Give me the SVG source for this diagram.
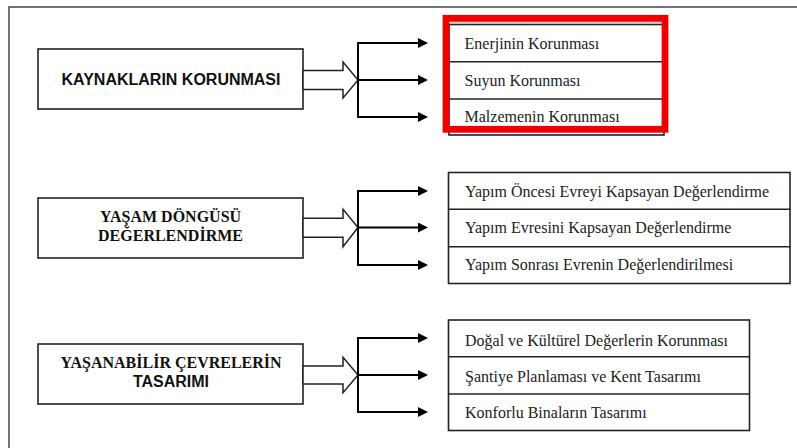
<svg xmlns="http://www.w3.org/2000/svg" width="797" height="448" viewBox="0 0 797 448">
<style>
.box{fill:#fff;stroke:#222;stroke-width:1.6}
.div{stroke:#222;stroke-width:1.6}
.sans{font-family:"Liberation Sans",Arial,sans-serif;font-weight:bold;font-size:16px;fill:#111}
.serifb{font-family:"Liberation Serif","Times New Roman",serif;font-weight:bold;font-size:16px;fill:#111}
.item{font-family:"Liberation Serif","Times New Roman",serif;font-size:16px;fill:#222}
.blk{fill:#fff;stroke:#222;stroke-width:1.5;stroke-linejoin:miter}
.con{fill:none;stroke:#000;stroke-width:2}
</style>
<defs>
<marker id="ah" viewBox="0 0 10 10" markerWidth="10" markerHeight="10" markerUnits="userSpaceOnUse" refX="0" refY="5" orient="auto">
<path d="M0,0 L10,5 L0,10 z" fill="#000"/>
</marker>
</defs>
<rect width="797" height="448" fill="#fff"/>
<path d="M9,448 V7 H797" fill="none" stroke="#444" stroke-width="1.5"/>

<g id="node-kaynaklar">
<rect class="box" x="38" y="49" width="265" height="60"/>
<text class="sans" x="171" y="84.5" text-anchor="middle">KAYNAKLARIN KORUNMASI</text>
</g>
<g id="node-yasam">
<rect class="box" x="38" y="198" width="265" height="60"/>
<text class="serifb" x="170.5" y="221.5" text-anchor="middle">YAŞAM DÖNGÜSÜ</text>
<text class="serifb" x="170.5" y="241" text-anchor="middle">DEĞERLENDİRME</text>
</g>
<g id="node-yasanabilir">
<rect class="box" x="38" y="344" width="265" height="60"/>
<text class="serifb" x="171" y="368.3" text-anchor="middle">YAŞANABİLİR ÇEVRELERİN</text>
<text class="sans" x="171" y="387.3" text-anchor="middle">TASARIMI</text>
</g>

<g id="node-list1">
<line x1="449" y1="22" x2="664" y2="22" stroke="#999" stroke-width="1"/>
<rect class="box" x="449" y="24.5" width="215" height="110.5"/>
<line class="div" x1="449" y1="61.7" x2="664" y2="61.7"/>
<line class="div" x1="449" y1="99" x2="664" y2="99"/>
<text class="item" x="464.5" y="49.3">Enerjinin Korunması</text>
<text class="item" x="464.5" y="85.5">Suyun Korunması</text>
<text class="item" x="464.5" y="122.3">Malzemenin Korunması</text>
<rect x="446" y="18.3" width="219" height="111" fill="none" stroke="#f00000" stroke-width="6.8"/>
</g>
<g id="node-list2">
<rect class="box" x="448.5" y="172.5" width="341.5" height="111"/>
<line class="div" x1="448.5" y1="209.3" x2="790" y2="209.3"/>
<line class="div" x1="448.5" y1="246.7" x2="790" y2="246.7"/>
<text class="item" x="465" y="196.7">Yapım Öncesi Evreyi Kapsayan Değerlendirme</text>
<text class="item" x="465" y="233.3">Yapım Evresini Kapsayan Değerlendirme</text>
<text class="item" x="465" y="270">Yapım Sonrası Evrenin Değerlendirilmesi</text>
</g>
<g id="node-list3">
<rect class="box" x="448.5" y="320" width="301" height="110.5"/>
<line class="div" x1="448.5" y1="356.7" x2="749.5" y2="356.7"/>
<line class="div" x1="448.5" y1="394" x2="749.5" y2="394"/>
<text class="item" x="465" y="345.7">Doğal ve Kültürel Değerlerin Korunması</text>
<text class="item" x="465" y="381.7">Şantiye Planlaması ve Kent Tasarımı</text>
<text class="item" x="465" y="418.3">Konforlu Binaların Tasarımı</text>
</g>

<g id="connectors">
<polygon class="blk" points="303,70.5 343,70.5 343,62 358,80 343,98 343,89.5 303,89.5"/>
<path class="con" d="M358,43 V117"/>
<line class="con" x1="357" y1="43" x2="418" y2="43" marker-end="url(#ah)"/>
<line class="con" x1="358" y1="80" x2="418" y2="80" marker-end="url(#ah)"/>
<line class="con" x1="357" y1="117" x2="418" y2="117" marker-end="url(#ah)"/>

<polygon class="blk" points="303,218.3 343,218.3 343,209.3 358,227.5 343,246.7 343,237.3 303,237.3"/>
<path class="con" d="M358,191 V265"/>
<line class="con" x1="357" y1="191" x2="418" y2="191" marker-end="url(#ah)"/>
<line class="con" x1="358" y1="227.5" x2="418" y2="227.5" marker-end="url(#ah)"/>
<line class="con" x1="357" y1="265" x2="418" y2="265" marker-end="url(#ah)"/>

<polygon class="blk" points="303,366 343,366 343,357.3 358,375 343,392.7 343,384 303,384"/>
<path class="con" d="M358,338 V412"/>
<line class="con" x1="357" y1="338" x2="418" y2="338" marker-end="url(#ah)"/>
<line class="con" x1="358" y1="375" x2="418" y2="375" marker-end="url(#ah)"/>
<line class="con" x1="357" y1="412" x2="418" y2="412" marker-end="url(#ah)"/>
</g>
</svg>
